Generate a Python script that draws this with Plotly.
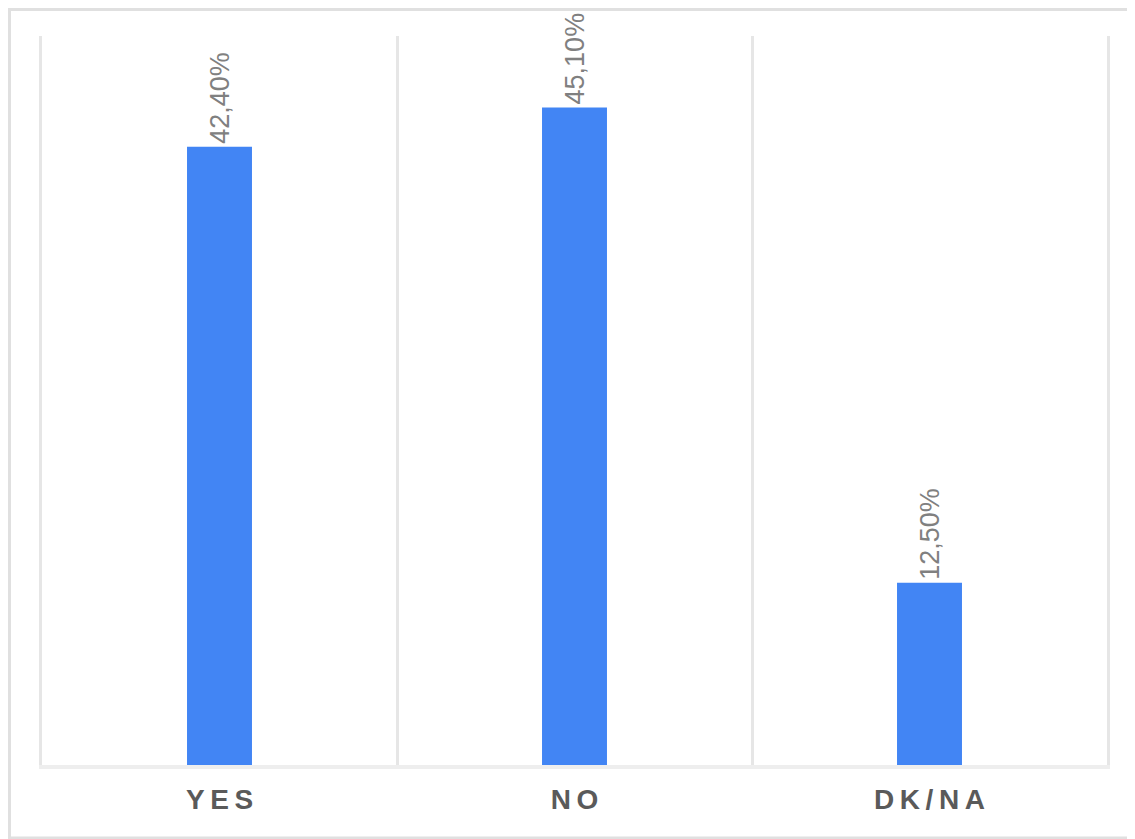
import plotly.graph_objects as go

categories = ["YES", "NO", "DK/NA"]
values = [42.4, 45.1, 12.5]
value_labels = ["42,40%", "45,10%", "12,50%"]
tick_labels = ["\u2009".join(c) for c in categories]

# figure is placed 8px from page top-left (default body margin)
W, H = 1135, 839
L, R, T, B = 34, 36, 28, 82
pw, ph = W - L - R, H - T - B

fig = go.Figure()
fig.add_trace(go.Bar(
    x=categories,
    y=values,
    text=value_labels,
    textposition="outside",
    textangle=-90,
    cliponaxis=False,
    constraintext="none",
    textfont=dict(family="Liberation Sans, Arial", size=27, color="#808080"),
    marker=dict(color="#4285F4", line=dict(width=0)),
    hoverinfo="x+y",
))

fig.update_layout(
    width=W, height=H,
    margin=dict(l=L, r=R, t=T, b=B),
    paper_bgcolor="white",
    plot_bgcolor="white",
    bargap=0.817,
    showlegend=False,
    xaxis=dict(
        type="category",
        tickson="boundaries",
        showgrid=True,
        gridcolor="#e6e6e6",
        gridwidth=3,
        showline=True,
        linecolor="#eeeeee",
        linewidth=4,
        ticks="",
        tickmode="array",
        tickvals=categories,
        ticktext=tick_labels,
        ticklabelstandoff=6,
        tickfont=dict(family="Liberation Sans, Arial", size=28, color="#5a5a5a", weight="bold"),
        range=[-0.5, 2.5],
    ),
    yaxis=dict(
        range=[0, 50],
        showgrid=False,
        zeroline=False,
        showticklabels=False,
        ticks="",
        showline=True,
        mirror=True,
        linecolor="#e6e6e6",
        linewidth=3,
    ),
    shapes=[dict(
        type="rect", xref="paper", yref="paper",
        x0=(1.5 - L) / pw, x1=(W + 10 - L) / pw,
        y0=(T + ph - 830) / ph, y1=(T + ph - 1.5) / ph,
        line=dict(color="#e0e0e0", width=3),
        fillcolor="rgba(0,0,0,0)",
        layer="below",
    )],
)

fig.write_html("out.html")
